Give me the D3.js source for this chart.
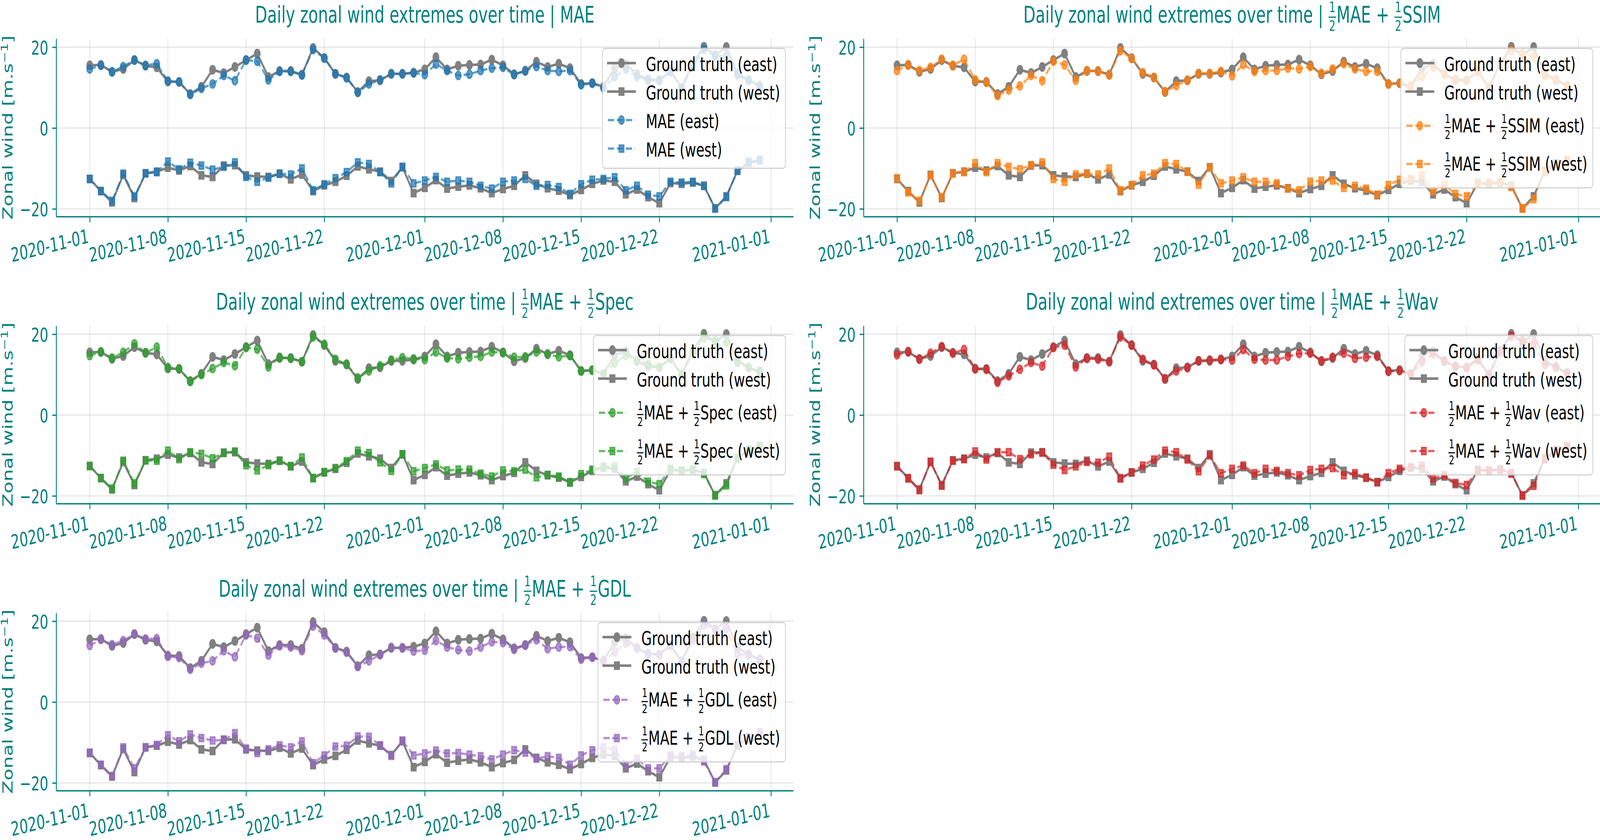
<!DOCTYPE html>
<html lang="en">
<head>
<meta charset="UTF-8">
<title>Daily zonal wind extremes over time</title>
<script src="https://d3js.org/d3.v7.min.js"></script>
<style>
  html, body { margin: 0; padding: 0; background: #fff; overflow: hidden; }
  #chart { display: block; width: 100vw; height: 100vh; }
  svg text { font-family: "DejaVu Sans", sans-serif; white-space: pre; }
</style>
</head>
<body>
<svg id="chart"></svg>
<script>
// ---- data ----
const firstDay = "2020-11-01";
const lastDay = "2020-12-31";
const xTickLabels = ["2020-11-01", "2020-11-08", "2020-11-15", "2020-11-22", "2020-12-01",
                     "2020-12-08", "2020-12-15", "2020-12-22", "2021-01-01"];
const yTicks = [-20, 0, 20];

const gtEast = [15.5, 15.6, 13.9, 14.6, 16.8, 15.4, 15.0, 11.5, 11.4, 8.4,
  10.2, 14.4, 13.6, 15.1, 16.8, 18.4, 12.6, 14.1, 14.1, 13.2,
  19.8, 17.3, 13.4, 12.5, 8.9, 11.6, 11.8, 13.4, 13.4, 13.7,
  14.5, 17.5, 14.5, 15.4, 15.6, 15.7, 16.9, 15.5, 13.3, 14.1,
  16.4, 15.1, 15.9, 14.8, 10.9, 11.1, 10.2, 14.8, 15.8, 13.3,
  12.0, 11.8, 14.0, 10.0, 16.0, 20.1, 18.0, 20.05, 13.5, 11.8, 10.5];
const gtWest = [-12.6, -15.6, -18.4, -11.6, -17.3, -11.2, -10.8, -9.8, -10.5, -9.4,
  -11.7, -12.1, -9.3, -9.2, -11.7, -12.0, -12.1, -11.3, -12.7, -11.5,
  -15.6, -14.2, -13.3, -11.8, -9.5, -10.2, -10.8, -13.1, -9.7, -16.1,
  -14.8, -12.9, -15.0, -14.5, -14.2, -14.9, -16.1, -15.1, -14.3, -11.7,
  -13.8, -14.9, -15.5, -16.6, -15.3, -13.8, -13.0, -13.3, -16.4, -15.2,
  -17.1, -18.6, -13.6, -13.8, -13.5, -14.3, -19.9, -16.9, -10.6, -8.7, -8.0];

const maeEast = [14.6, 15.5, 13.9, 15.2, 16.8, 15.5, 15.9, 11.6, 11.4, 8.3,
  9.8, 10.9, 13.0, 11.7, 16.8, 16.5, 11.9, 14.0, 14.0, 13.1,
  19.4, 17.3, 13.4, 12.4, 8.8, 10.9, 11.9, 13.4, 13.4, 13.6,
  13.2, 15.8, 14.2, 13.0, 13.3, 14.2, 14.8, 15.0, 13.2, 14.2,
  15.2, 14.2, 14.0, 14.2, 10.7, 11.1, 9.9, 12.7, 14.6, 12.7,
  11.8, 11.8, 14.0, 9.8, 15.2, 19.4, 17.8, 17.8, 13.1, 11.8, 10.3];
const maeWest = [-12.6, -15.6, -18.0, -11.3, -16.9, -11.2, -10.9, -8.3, -10.2, -8.6,
  -9.3, -10.3, -9.6, -8.5, -12.1, -13.3, -12.3, -11.3, -11.5, -10.0,
  -15.4, -13.9, -12.4, -10.9, -8.5, -8.9, -10.9, -13.7, -9.6, -13.7,
  -13.0, -12.1, -13.3, -13.0, -13.3, -14.3, -15.0, -13.3, -13.0, -12.6,
  -14.3, -14.1, -14.6, -16.3, -13.9, -12.8, -12.6, -12.2, -15.4, -14.3,
  -16.5, -16.9, -13.3, -13.5, -13.3, -14.3, -19.9, -17.1, -10.5, -8.3, -7.9];

const ssimEast = [14.2, 15.6, 14.2, 15.0, 17.0, 15.5, 17.0, 11.9, 11.3, 8.0,
  9.4, 10.4, 13.0, 11.7, 16.5, 15.6, 11.8, 14.2, 14.0, 13.1,
  19.1, 17.2, 13.7, 12.5, 9.0, 10.5, 11.8, 13.5, 13.5, 14.0,
  12.9, 15.7, 14.0, 14.2, 14.2, 14.8, 14.6, 15.2, 13.5, 14.6,
  15.9, 14.6, 14.0, 14.0, 10.9, 11.1, 10.5, 12.7, 15.0, 13.3,
  11.8, 11.8, 14.0, 10.1, 15.5, 19.1, 18.3, 17.6, 12.9, 12.0, 10.5];
const ssimWest = [-12.4, -15.9, -18.0, -11.7, -17.1, -11.2, -10.9, -8.7, -10.9, -8.7,
  -9.6, -10.2, -9.2, -8.5, -12.6, -13.3, -11.5, -11.3, -11.5, -10.0,
  -15.4, -14.1, -11.7, -11.3, -8.7, -8.9, -10.8, -14.0, -9.8, -13.7,
  -13.0, -12.2, -13.3, -13.3, -13.7, -15.0, -15.4, -13.3, -13.0, -13.0,
  -14.8, -14.3, -15.0, -16.5, -14.1, -12.8, -12.6, -11.7, -15.6, -14.1,
  -16.3, -16.9, -13.7, -13.6, -13.3, -14.6, -19.9, -17.6, -10.9, -8.9, -8.1];

const specEast = [14.7, 15.6, 14.1, 15.5, 17.6, 15.4, 16.8, 11.8, 11.4, 8.3,
  10.0, 11.5, 13.0, 12.2, 16.7, 16.3, 11.9, 14.3, 14.0, 13.2,
  19.3, 17.5, 13.8, 12.6, 9.2, 10.9, 12.2, 13.6, 14.2, 13.9,
  13.7, 15.6, 14.1, 13.9, 14.3, 14.5, 15.6, 15.4, 14.3, 14.4,
  15.6, 15.0, 14.4, 14.7, 10.9, 11.1, 10.2, 12.8, 14.7, 13.4,
  12.6, 11.8, 13.9, 10.0, 15.4, 19.1, 18.4, 18.0, 13.0, 11.7, 10.9];
const specWest = [-12.6, -15.6, -18.2, -11.3, -16.9, -11.2, -11.3, -8.8, -10.9, -9.2,
  -9.6, -10.7, -9.4, -9.0, -12.4, -13.7, -12.4, -11.3, -12.6, -10.5,
  -15.6, -14.1, -13.1, -11.4, -8.8, -9.4, -11.7, -13.8, -9.7, -13.9,
  -13.1, -12.2, -13.7, -13.5, -13.5, -14.5, -15.2, -13.7, -13.9, -13.5,
  -15.4, -14.8, -15.2, -16.7, -14.6, -13.5, -12.8, -12.7, -15.6, -14.1,
  -16.5, -17.1, -13.3, -13.7, -13.5, -14.6, -19.8, -17.4, -10.7, -8.5, -7.6];

const wavEast = [14.9, 15.7, 13.8, 15.3, 16.9, 15.3, 16.2, 11.4, 11.3, 8.1,
  9.7, 11.3, 13.0, 12.1, 16.7, 17.3, 11.9, 14.0, 13.8, 13.2,
  19.3, 17.3, 13.8, 12.4, 9.0, 10.9, 11.7, 13.4, 13.6, 13.8,
  13.6, 16.2, 13.8, 13.6, 13.6, 14.5, 15.2, 15.3, 13.4, 14.3,
  15.3, 14.0, 14.3, 14.5, 10.8, 11.0, 10.1, 13.2, 15.1, 13.4,
  12.1, 11.7, 13.6, 9.9, 15.6, 19.5, 18.4, 17.7, 12.5, 12.0, 10.3];
const wavWest = [-12.7, -15.7, -18.6, -11.6, -17.5, -11.3, -10.9, -9.0, -11.0, -9.2,
  -9.2, -10.9, -9.7, -9.3, -12.3, -13.6, -12.7, -11.6, -11.8, -10.3,
  -15.7, -14.2, -12.5, -11.0, -8.8, -9.2, -11.0, -13.9, -10.0, -14.4,
  -13.3, -12.5, -14.4, -13.3, -13.8, -14.4, -14.9, -13.6, -13.3, -13.1,
  -14.9, -14.4, -15.5, -16.6, -14.4, -13.3, -13.0, -12.5, -15.7, -14.9,
  -16.8, -17.3, -13.6, -13.7, -13.4, -14.5, -19.9, -17.5, -11.0, -8.8, -7.7];

const gdlEast = [14.0, 15.5, 14.2, 15.2, 16.8, 15.6, 15.7, 11.3, 11.0, 8.1,
  9.6, 10.2, 12.7, 11.2, 16.6, 15.8, 11.6, 13.9, 13.6, 12.7,
  18.8, 16.6, 13.4, 12.3, 8.8, 10.2, 11.7, 13.5, 13.4, 12.6,
  12.8, 15.2, 13.6, 12.9, 12.6, 13.6, 14.9, 14.7, 13.0, 14.1,
  15.4, 13.2, 13.6, 13.7, 10.6, 11.1, 10.2, 12.4, 14.5, 13.4,
  11.9, 11.7, 14.1, 10.2, 15.3, 19.0, 17.9, 18.2, 11.9, 11.6, 10.6];
const gdlWest = [-12.5, -15.5, -18.3, -11.2, -16.4, -11.2, -10.6, -8.2, -9.7, -8.0,
  -8.9, -9.5, -9.4, -7.7, -11.5, -12.6, -11.7, -10.7, -11.2, -9.7,
  -15.1, -13.2, -11.0, -10.8, -8.5, -8.6, -10.7, -13.3, -9.5, -13.2,
  -12.7, -12.0, -12.7, -12.6, -13.0, -13.4, -14.2, -13.0, -11.9, -12.5,
  -14.0, -13.4, -13.8, -15.5, -13.2, -11.9, -11.2, -11.8, -15.5, -14.0,
  -16.4, -16.4, -13.2, -13.4, -13.0, -14.7, -19.8, -16.6, -10.8, -8.9, -7.4];

// a "½" in the labels
const HALF = {num: "1", den: "2"};

const panels = [
  {label: ["MAE"], color: "#1f77b4", east: maeEast, west: maeWest},
  {label: [HALF, "MAE + ", HALF, "SSIM"], color: "#ff7f0e", east: ssimEast, west: ssimWest},
  {label: [HALF, "MAE + ", HALF, "Spec"], color: "#2ca02c", east: specEast, west: specWest},
  {label: [HALF, "MAE + ", HALF, "Wav"], color: "#d62728", east: wavEast, west: wavWest},
  {label: [HALF, "MAE + ", HALF, "GDL"], color: "#9467bd", east: gdlEast, west: gdlWest}
];

// ---- layout (figure units, the svg is stretched onto the window) ----
const W = 5902, H = 2151;
const teal = "#008080";
const gtColor = "#808080";
const colLeft = [207.4, 3185.4];
const rowTop = [99, 834, 1569];
const axW = 2719, axH = 455.5;
const tickLen = 14.6, tickPad = 14.6;
const lw = 3.3;

const svg = d3.select("#chart")
  .attr("viewBox", `0 0 ${W} ${H}`)
  .attr("preserveAspectRatio", "none");
svg.append("rect").attr("width", W).attr("height", H).attr("fill", "#fff");

const parseDay = d3.utcParse("%Y-%m-%d");
const days = d3.utcDay.range(parseDay(firstDay), d3.utcDay.offset(parseDay(lastDay), 1));
const tickDates = xTickLabels.map(parseDay);

// draws text pieces (plain strings and ½ fractions) from x=0 on the baseline, returns width
function drawRich(g, pieces, size, color) {
  let x = 0;
  pieces.forEach(function(p) {
    if (typeof p === "string") {
      const t = g.append("text")
        .attr("xml:space", "preserve")
        .attr("x", x).attr("y", 0)
        .attr("font-size", size)
        .attr("fill", color)
        .text(p);
      x += t.node().getComputedTextLength();
    } else {
      const cx = x + size * 0.25;
      g.append("rect")
        .attr("x", x + size * 0.01).attr("y", -size * 0.267)
        .attr("width", size * 0.48).attr("height", size * 0.054)
        .attr("fill", color);
      g.append("text").attr("x", cx).attr("y", -size * 0.466)
        .attr("font-size", size * 0.63).attr("text-anchor", "middle")
        .attr("fill", color).text(p.num);
      g.append("text").attr("x", cx).attr("y", size * 0.354)
        .attr("font-size", size * 0.63).attr("text-anchor", "middle")
        .attr("fill", color).text(p.den);
      x += size * 0.52;
    }
  });
  return x;
}

const circleSym = d3.symbol(d3.symbolCircle, Math.PI * 10.5 * 10.5);
const squareSym = d3.symbol(d3.symbolSquare, 18 * 18);

function drawSeries(g, values, x, y, style) {
  const pts = values.map(function(v, i) { return {d: days[i], v: v}; });
  const line = d3.line().x(function(p) { return x(p.d); }).y(function(p) { return y(p.v); });
  g.append("path")
    .datum(pts)
    .attr("d", line)
    .attr("fill", "none")
    .attr("stroke", style.color)
    .attr("stroke-opacity", style.alpha)
    .attr("stroke-width", style.width)
    .attr("stroke-linejoin", "round")
    .attr("stroke-dasharray", style.dashed ? "23,10" : null);
  g.selectAll(null)
    .data(pts)
    .enter().append("path")
    .attr("transform", function(p) { return `translate(${x(p.d)},${y(p.v)})`; })
    .attr("d", style.symbol)
    .attr("fill", style.color)
    .attr("fill-opacity", style.alpha)
    .attr("stroke", style.color)
    .attr("stroke-opacity", style.alpha)
    .attr("stroke-width", 4);
}

function drawLegend(g, entries, right, top) {
  const fs = 50, pad = 20, handleLen = 100, textPad = 40, spacing = 25;
  const items = g.append("g");
  let maxW = 0, yCur = top + pad;
  const rows = entries.map(function(e) {
    const hasFrac = e.pieces.some(function(p) { return typeof p !== "string"; });
    const h = hasFrac ? 73 : 48;
    const row = {e: e, base: yCur + (hasFrac ? 48.5 : 37.6), handleY: yCur + (hasFrac ? 32 : 17.6)};
    yCur += h + spacing;
    return row;
  });
  const height = yCur - spacing + pad - top;
  const frame = items.append("rect");
  const textG = items.append("g");
  rows.forEach(function(r) {
    const tg = textG.append("g");
    r.tg = tg;
    r.w = drawRich(tg, r.e.pieces, fs, "#000");
    maxW = Math.max(maxW, r.w);
  });
  const width = pad + handleLen + textPad + maxW + pad;
  const left = right - width;
  frame.attr("x", left).attr("y", top).attr("width", width).attr("height", height)
    .attr("rx", 10).attr("ry", 10)
    .attr("fill", "#fff").attr("fill-opacity", 0.8)
    .attr("stroke", "#cccccc").attr("stroke-opacity", 0.8).attr("stroke-width", lw);
  rows.forEach(function(r) {
    r.tg.attr("transform", `translate(${left + pad + handleLen + textPad},${r.base})`);
    const s = r.e.style;
    items.append("line")
      .attr("x1", left + pad).attr("x2", left + pad + handleLen)
      .attr("y1", r.handleY).attr("y2", r.handleY)
      .attr("stroke", s.color).attr("stroke-opacity", s.alpha)
      .attr("stroke-width", s.width)
      .attr("stroke-linecap", s.dashed ? "butt" : "square")
      .attr("stroke-dasharray", s.dashed ? "23,10" : null);
    items.append("path")
      .attr("transform", `translate(${left + pad + handleLen / 2},${r.handleY})`)
      .attr("d", s.symbol)
      .attr("fill", s.color).attr("fill-opacity", s.alpha)
      .attr("stroke", s.color).attr("stroke-opacity", s.alpha)
      .attr("stroke-width", 4);
  });
}

panels.forEach(function(p, i) {
  const col = i % 2, row = Math.floor(i / 2);
  const left = colLeft[col], top = rowTop[row];
  const g = svg.append("g").attr("transform", `translate(${left},${top})`);

  const x = d3.scaleUtc()
    .domain([d3.utcDay.offset(days[0], -3), d3.utcDay.offset(days[days.length - 1], 3)])
    .range([0, axW]);
  const all = gtEast.concat(gtWest, p.east, p.west);
  const lo = d3.min(all), hi = d3.max(all), m = (hi - lo) * 0.05;
  const y = d3.scaleLinear().domain([lo - m, hi + m]).range([axH, 0]);

  // grid
  const grid = g.append("g")
    .attr("stroke", "#b0b0b0").attr("stroke-opacity", 0.3).attr("stroke-width", lw);
  grid.selectAll(null).data(tickDates).enter().append("line")
    .attr("x1", function(d) { return x(d); }).attr("x2", function(d) { return x(d); })
    .attr("y1", 0).attr("y2", axH);
  grid.selectAll(null).data(yTicks).enter().append("line")
    .attr("x1", 0).attr("x2", axW)
    .attr("y1", function(d) { return y(d); }).attr("y2", function(d) { return y(d); });

  // series
  const gtE = {color: gtColor, alpha: 1, width: 6.5, dashed: false, symbol: circleSym};
  const gtW = {color: gtColor, alpha: 1, width: 6.5, dashed: false, symbol: squareSym};
  const mE = {color: p.color, alpha: 0.7, width: 6, dashed: true, symbol: circleSym};
  const mW = {color: p.color, alpha: 0.7, width: 6, dashed: true, symbol: squareSym};
  drawSeries(g, gtEast, x, y, gtE);
  drawSeries(g, gtWest, x, y, gtW);
  drawSeries(g, p.east, x, y, mE);
  drawSeries(g, p.west, x, y, mW);

  // axes
  const xAxis = g.append("g")
    .attr("transform", `translate(0,${axH})`)
    .call(d3.axisBottom(x).tickValues(tickDates).tickFormat(d3.utcFormat("%Y-%m-%d"))
      .tickSize(tickLen).tickSizeOuter(0).tickPadding(tickPad));
  const yAxis = g.append("g")
    .call(d3.axisLeft(y).tickValues(yTicks).tickSize(tickLen).tickSizeOuter(0).tickPadding(tickPad));
  [xAxis, yAxis].forEach(function(a) {
    a.style("color", teal)
      .attr("font-size", 50)
      .attr("font-family", "DejaVu Sans");
    a.selectAll("line, path").attr("stroke-width", lw);
  });
  const ly = tickLen + tickPad + 37.4;
  xAxis.selectAll("text")
    .attr("x", -1.8).attr("y", ly).attr("dy", null)
    .attr("text-anchor", "end")
    .attr("transform", `rotate(-10,-1.8,${ly})`);
  yAxis.selectAll("text").attr("dy", "0.365em");

  // y label
  const yl = g.append("text")
    .attr("transform", `translate(-161,${axH / 2}) rotate(-90)`)
    .attr("text-anchor", "middle")
    .attr("font-size", 50)
    .attr("fill", teal);
  yl.append("tspan").text("Zonal wind [m.s");
  yl.append("tspan").attr("font-size", 35).attr("dy", -17).text("\u22121");
  yl.append("tspan").attr("dy", 17).text("]");

  // title
  const tg = g.append("g");
  const tw = drawRich(tg, ["Daily zonal wind extremes over time | "].concat(p.label), 58.3, teal);
  tg.attr("transform", `translate(${axW / 2 - tw / 2},-41)`);

  // legend
  drawLegend(g, [
    {pieces: ["Ground truth (east)"], style: gtE},
    {pieces: ["Ground truth (west)"], style: gtW},
    {pieces: p.label.concat([" (east)"]), style: mE},
    {pieces: p.label.concat([" (west)"]), style: mW}
  ], axW - 29, 25);
});
</script>
</body>
</html>
